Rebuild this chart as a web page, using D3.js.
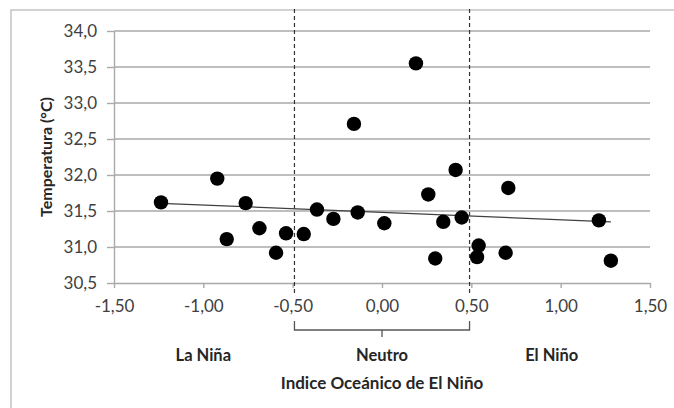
<!DOCTYPE html>
<html>
<head>
<meta charset="utf-8">
<script src="https://cdn.jsdelivr.net/npm/d3@7"></script>
<style>
  html, body { margin: 0; padding: 0; background: #fff; }
  svg { display: block; font-family: Lato, "Open Sans", sans-serif; }
</style>
</head>
<body>
<svg id="chart" width="674" height="408"></svg>
<script>
// ---- data ----
const oniValues = [-1.237, -0.922, -0.869, -0.763, -0.686, -0.593, -0.537, -0.438, -0.364, -0.272,
                   -0.136, -0.157, 0.013, 0.190, 0.259, 0.298, 0.343, 0.412, 0.446, 0.541,
                   0.532, 0.692, 0.707, 1.214, 1.281];
const tempValues = [31.62, 31.95, 31.11, 31.61, 31.26, 30.92, 31.19, 31.18, 31.52, 31.39,
                    31.48, 32.71, 31.33, 33.55, 31.73, 30.84, 31.35, 32.07, 31.41, 31.02,
                    30.86, 30.92, 31.82, 31.37, 30.81];
const xTicks = [-1.5, -1.0, -0.5, 0, 0.5, 1.0, 1.5];
const yTicks = [30.5, 31.0, 31.5, 32.0, 32.5, 33.0, 33.5, 34.0];
const phaseBounds = [-0.49, 0.49];
const phaseLabels = ["La Niña", "Neutro", "El Niño"];
const phaseCenters = [-1.0, 0.0, 0.95];
const xTitle = "Indice Oceánico de El Niño";
const yTitle = "Temperatura (°C)";

// ---- layout ----
const svg = d3.select("#chart");
const x = d3.scaleLinear().domain([-1.5, 1.5]).range([114, 650]);
const y = d3.scaleLinear().domain([30.5, 34]).range([283, 31]);
const gridColor = "#a9a9a9";
const textColor = "#404040";
const fmt = (d, n) => d.toFixed(n).replace(".", ",");

// outer chart border (cropped)
svg.append("path")
  .attr("d", "M11,408 L11,10 L674,10")
  .attr("fill", "none").attr("stroke", "#c4c4c4").attr("stroke-width", 1.5);

// gridlines
svg.append("g").selectAll("line").data(yTicks.filter(d => d > 30.5)).join("line")
  .attr("x1", x(-1.5)).attr("x2", x(1.5))
  .attr("y1", d => y(d)).attr("y2", d => y(d))
  .attr("stroke", gridColor).attr("stroke-width", 1.4);

// y axis
const yAxis = svg.append("g").attr("transform", `translate(${x(-1.5)},0)`)
  .call(d3.axisLeft(y).tickValues(yTicks).tickFormat(d => fmt(d, 1)).tickSizeInner(7).tickSizeOuter(0).tickPadding(10));
yAxis.select(".domain").attr("stroke", gridColor).attr("stroke-width", 1.4);
yAxis.selectAll(".tick line").attr("stroke", gridColor).attr("stroke-width", 1.4);
yAxis.selectAll("text").attr("fill", textColor).style("font-size", "17px").style("font-family", "Lato");

// x axis
const xAxis = svg.append("g").attr("transform", `translate(0,${y(30.5)})`)
  .call(d3.axisBottom(x).tickValues(xTicks).tickFormat(d => fmt(d, 2)).tickSizeInner(5).tickSizeOuter(0).tickPadding(12));
xAxis.select(".domain").attr("stroke", gridColor).attr("stroke-width", 1.4);
xAxis.selectAll(".tick line").attr("stroke", gridColor).attr("stroke-width", 1.4);
xAxis.selectAll("text").attr("fill", textColor).style("font-size", "17px").style("font-family", "Lato");

// dashed phase boundaries
svg.append("g").selectAll("line").data(phaseBounds).join("line")
  .attr("x1", d => x(d)).attr("x2", d => x(d))
  .attr("y1", 9).attr("y2", 296)
  .attr("stroke", "#333").attr("stroke-width", 1.2).attr("stroke-dasharray", "4,3");

// bracket under neutral range
const bx0 = x(phaseBounds[0]), bx1 = x(phaseBounds[1]), bxm = x(0);
svg.append("path")
  .attr("d", `M${bx0},321 L${bx0},330 L${bx1},330 L${bx1},321 M${bxm},330 L${bxm},337`)
  .attr("fill", "none").attr("stroke", "#555").attr("stroke-width", 1.3);

// trend line (least squares)
const n = oniValues.length;
const mx = d3.mean(oniValues), my = d3.mean(tempValues);
let sxy = 0, sxx = 0;
for (let i = 0; i < n; i++) { sxy += (oniValues[i] - mx) * (tempValues[i] - my); sxx += (oniValues[i] - mx) ** 2; }
const slope = sxy / sxx, intercept = my - slope * mx;
const xe = d3.extent(oniValues);
svg.append("line")
  .attr("x1", x(xe[0])).attr("y1", y(intercept + slope * xe[0]))
  .attr("x2", x(xe[1])).attr("y2", y(intercept + slope * xe[1]))
  .attr("stroke", "#404040").attr("stroke-width", 1.3);

// points
svg.append("g").selectAll("circle").data(d3.range(n)).join("circle")
  .attr("cx", i => x(oniValues[i])).attr("cy", i => y(tempValues[i]))
  .attr("r", 7.2).attr("fill", "#000");

// phase labels
svg.append("g").selectAll("text").data(phaseLabels).join("text")
  .attr("x", (d, i) => x(phaseCenters[i])).attr("y", 361)
  .attr("text-anchor", "middle").attr("fill", "#262626")
  .style("font-size", "16.5px").style("font-weight", "bold")
  .text(d => d);

// axis titles
svg.append("text").attr("x", x(0)).attr("y", 389).attr("text-anchor", "middle")
  .attr("fill", "#262626").style("font-size", "17px").style("font-weight", "bold").text(xTitle);
svg.append("text").attr("transform", "translate(52,157) rotate(-90)").attr("text-anchor", "middle")
  .attr("fill", "#262626").style("font-size", "16px").style("font-weight", "bold").text(yTitle);
</script>
</body>
</html>
